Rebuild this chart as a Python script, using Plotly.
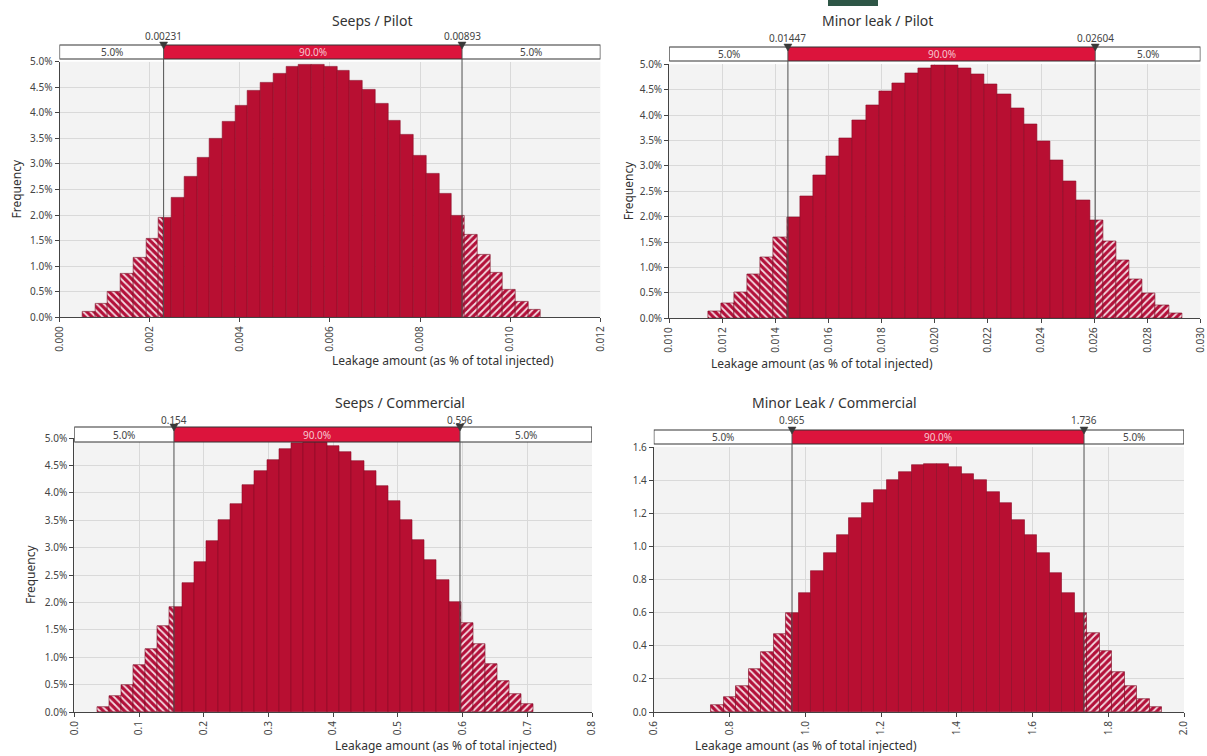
import plotly.graph_objects as go

W, H = 1207, 756

# ---------------- data ----------------
titles = ["Seeps / Pilot", "Minor leak / Pilot", "Seeps / Commercial", "Minor Leak / Commercial"]
x_title = "Leakage amount (as % of total injected)"
y_title = "Frequency"

# Seeps / Pilot  (frequency, %)
sp_start = 0.000508
sp_width = 0.0002826
sp_freq = [0.11, 0.27, 0.51, 0.86, 1.17, 1.53, 1.95, 2.33, 2.75, 3.13, 3.49, 3.83,
           4.13, 4.43, 4.59, 4.77, 4.90, 4.95, 4.95, 4.90, 4.82, 4.63, 4.45, 4.18,
           3.85, 3.57, 3.17, 2.80, 2.41, 1.98, 1.61, 1.23, 0.88, 0.54, 0.31, 0.14]
sp_p5, sp_p95 = 0.00231, 0.00893
sp_labels = ["0.00231", "0.00893"]

# Minor leak / Pilot (frequency, %)
mp_start = 0.01145
mp_width = 0.000496
mp_freq = [0.13, 0.30, 0.52, 0.87, 1.20, 1.59, 1.99, 2.40, 2.81, 3.18, 3.54, 3.89,
           4.20, 4.46, 4.63, 4.82, 4.93, 4.99, 4.99, 4.92, 4.80, 4.61, 4.40, 4.13,
           3.81, 3.48, 3.12, 2.70, 2.32, 1.92, 1.52, 1.14, 0.77, 0.49, 0.26, 0.10]
mp_p5, mp_p95 = 0.01447, 0.02604
mp_labels = ["0.01447", "0.02604"]

# Seeps / Commercial (frequency, %)
sc_start = 0.035
sc_width = 0.01875
sc_freq = [0.10, 0.30, 0.50, 0.85, 1.15, 1.57, 1.92, 2.35, 2.73, 3.12, 3.50, 3.80,
           4.15, 4.40, 4.60, 4.80, 4.90, 4.93, 4.93, 4.85, 4.75, 4.58, 4.40, 4.13,
           3.85, 3.50, 3.13, 2.78, 2.40, 2.00, 1.62, 1.25, 0.88, 0.57, 0.32, 0.15]
sc_p5, sc_p95 = 0.154, 0.596
sc_labels = ["0.154", "0.596"]

# Minor Leak / Commercial (density)
mc_start = 0.751
mc_width = 0.0331
mc_dens = [0.04, 0.09, 0.16, 0.26, 0.36, 0.47, 0.60, 0.72, 0.85, 0.96, 1.07, 1.17,
           1.26, 1.34, 1.40, 1.45, 1.49, 1.50, 1.50, 1.48, 1.44, 1.40, 1.33, 1.26,
           1.16, 1.07, 0.96, 0.84, 0.72, 0.60, 0.48, 0.37, 0.24, 0.16, 0.08, 0.03]
mc_p5, mc_p95 = 0.965, 1.736
mc_labels = ["0.965", "1.736"]

tail_label = "5.0%"
mid_label = "90.0%"

# ---------------- layout config (pixels) ----------------
panels = [
    dict(title=titles[0], start=sp_start, width=sp_width, vals=sp_freq, p5=sp_p5, p95=sp_p95,
         plabs=sp_labels, xr=[0, 0.012], xdt=0.002, xfmt=".3f", yr=[0, 5.0], ydt=0.5,
         ysuf="%", ytitle=True,
         L=59.5, R=600.4, T=61.7, B=317.3, box=(45, 59), title_y=20, plab_y=36,
         xt_y=360, yt_x=16),
    dict(title=titles[1], start=mp_start, width=mp_width, vals=mp_freq, p5=mp_p5, p95=mp_p95,
         plabs=mp_labels, xr=[0.010, 0.030], xdt=0.002, xfmt=".3f", yr=[0, 5.0], ydt=0.5,
         ysuf="%", ytitle=True,
         L=669.2, R=1200.4, T=64.3, B=318.3, box=(47, 61), title_y=20, plab_y=38,
         xt_y=363, yt_x=628),
    dict(title=titles[2], start=sc_start, width=sc_width, vals=sc_freq, p5=sc_p5, p95=sc_p95,
         plabs=sc_labels, xr=[0, 0.8], xdt=0.1, xfmt=".1f", yr=[0, 5.0], ydt=0.5,
         ysuf="%", ytitle=True,
         L=74.3, R=592.0, T=438, B=712, box=(427, 442), title_y=402, plab_y=420,
         xt_y=745, yt_x=30),
    dict(title=titles[3], start=mc_start, width=mc_width, vals=mc_dens, p5=mc_p5, p95=mc_p95,
         plabs=mc_labels, xr=[0.6, 2.0], xdt=0.2, xfmt=".1f", yr=[0, 1.6], ydt=0.2,
         ysuf="", ytitle=False,
         L=653.8, R=1184.0, T=447, B=712, box=(430, 444), title_y=402, plab_y=420,
         xt_y=745, yt_x=None),
]

SOLID = "#b80f32"
HATCH_BG = "#b3103a"
BOX_RED = "#dc143c"
TXT = "#333333"
FONT = "Noto Sans"


def px(x):
    return x / W


def py(y):
    return 1 - y / H


fig = go.Figure()
shapes, annotations = [], []
layout = dict(width=W, height=H, autosize=False,
              margin=dict(l=0, r=0, t=0, b=0, pad=0, autoexpand=False),
              paper_bgcolor="white", plot_bgcolor="#f3f3f3", showlegend=False,
              bargap=0, barmode="overlay", font=dict(family=FONT, color=TXT))

for k, p in enumerate(panels):
    n = k + 1
    xa = "x" if n == 1 else f"x{n}"
    ya = "y" if n == 1 else f"y{n}"
    xkey = "xaxis" if n == 1 else f"xaxis{n}"
    ykey = "yaxis" if n == 1 else f"yaxis{n}"

    # split bins into three regions
    groups = {"left": ([], [], []), "mid": ([], [], []), "right": ([], [], [])}
    for i, h in enumerate(p["vals"]):
        a = p["start"] + i * p["width"]
        b = a + p["width"]
        for name, lo, hi in (("left", -1e9, p["p5"]), ("mid", p["p5"], p["p95"]),
                             ("right", p["p95"], 1e9)):
            s, e = max(a, lo), min(b, hi)
            if e > s:
                groups[name][0].append((s + e) / 2)
                groups[name][1].append(e - s)
                groups[name][2].append(h)

    for name, shape in (("left", "\\"), ("right", "/")):
        xs, ws, hs = groups[name]
        fig.add_trace(go.Bar(
            x=xs, y=hs, width=ws, xaxis=xa, yaxis=ya,
            marker=dict(color=HATCH_BG, line=dict(color="#7a0a22", width=0.6),
                        pattern=dict(shape=shape, fgcolor="white", fgopacity=0.85,
                                     size=5, solidity=0.35, fillmode="overlay")),
            hoverinfo="skip"))
    xs, ws, hs = groups["mid"]
    fig.add_trace(go.Bar(
        x=xs, y=hs, width=ws, xaxis=xa, yaxis=ya,
        marker=dict(color=SOLID, line=dict(color="#8a0a25", width=0.6)),
        hoverinfo="skip"))

    dom_x = [px(p["L"]), px(p["R"])]
    dom_y = [py(p["B"]), py(p["T"])]
    nxt = round((p["xr"][1] - p["xr"][0]) / p["xdt"])
    xtv = [p["xr"][0] + j * p["xdt"] for j in range(nxt + 1)]
    layout[xkey] = dict(domain=dom_x, range=p["xr"], anchor=ya, tickmode="array",
                        tickvals=xtv, ticktext=[format(v, p["xfmt"]) for v in xtv],
                        tickangle=-90, ticks="outside", ticklen=4, automargin=False,
                        tickcolor="#444", showline=True, linecolor="#444", linewidth=1,
                        showgrid=True, gridcolor="#d9d9d9", gridwidth=1, zeroline=False,
                        tickfont=dict(size=10, color="#444", family=FONT), fixedrange=True)
    nyt = round((p["yr"][1] - p["yr"][0]) / p["ydt"])
    ytv = [j * p["ydt"] for j in range(nyt + 1)]
    layout[ykey] = dict(domain=dom_y, range=p["yr"], anchor=xa, tickmode="array",
                        tickvals=ytv, ticktext=[f"{v:.1f}{p['ysuf']}" for v in ytv],
                        ticks="outside", ticklen=4, automargin=False,
                        tickcolor="#444", showline=True, linecolor="#444", linewidth=1,
                        showgrid=True, gridcolor="#d9d9d9", gridwidth=1, zeroline=False,
                        tickfont=dict(size=10, color="#444", family=FONT), fixedrange=True)

    xref = xa
    bt, bb = p["box"]
    units_per_px = (p["xr"][1] - p["xr"][0]) / (p["R"] - p["L"])
    # percentile box
    shapes.append(dict(type="rect", xref=xref, yref="paper", x0=p["xr"][0], x1=p["p5"],
                       y0=py(bb), y1=py(bt), fillcolor="white", line=dict(width=0)))
    shapes.append(dict(type="rect", xref=xref, yref="paper", x0=p["p5"], x1=p["p95"],
                       y0=py(bb), y1=py(bt), fillcolor=BOX_RED, line=dict(width=0)))
    shapes.append(dict(type="rect", xref=xref, yref="paper", x0=p["p95"], x1=p["xr"][1],
                       y0=py(bb), y1=py(bt), fillcolor="white", line=dict(width=0)))
    shapes.append(dict(type="rect", xref=xref, yref="paper", x0=p["xr"][0], x1=p["xr"][1],
                       y0=py(bb), y1=py(bt), fillcolor="rgba(0,0,0,0)",
                       line=dict(color="#333", width=1.2)))
    for v, lab in zip((p["p5"], p["p95"]), p["plabs"]):
        shapes.append(dict(type="line", xref=xref, yref="paper", x0=v, x1=v,
                           y0=py(p["B"]), y1=py(bt), line=dict(color="#505050", width=1)))
        d = 4 * units_per_px
        shapes.append(dict(type="path", xref=xref, yref="paper",
                           path=f"M {v - d},{py(bt - 3)} L {v + d},{py(bt - 3)} L {v},{py(bt + 4)} Z",
                           fillcolor="#3a3a3a", line=dict(color="#3a3a3a", width=0.5)))
        annotations.append(dict(xref=xref, yref="paper", x=v, y=py(p["plab_y"]),
                                text=lab, showarrow=False,
                                font=dict(size=10, color="#444"),
                                xanchor="center", yanchor="middle"))
    ymid = py((bt + bb) / 2)
    annotations.append(dict(xref=xref, yref="paper", x=(p["xr"][0] + p["p5"]) / 2, y=ymid,
                            text=tail_label, showarrow=False, font=dict(size=10, color="#444"),
                            yanchor="middle"))
    annotations.append(dict(xref=xref, yref="paper", x=(p["p5"] + p["p95"]) / 2, y=ymid,
                            text=mid_label, showarrow=False,
                            font=dict(size=10, color="#f6c6cf"), yanchor="middle"))
    annotations.append(dict(xref=xref, yref="paper", x=(p["p95"] + p["xr"][1]) / 2, y=ymid,
                            text=tail_label, showarrow=False, font=dict(size=10, color="#444"),
                            yanchor="middle"))
    # titles
    annotations.append(dict(xref="paper", yref="paper", x=px((p["L"] + p["R"]) / 2),
                            y=py(p["title_y"]), text=p["title"], showarrow=False,
                            font=dict(size=14, color=TXT), yanchor="middle"))
    annotations.append(dict(xref="paper", yref="paper", x=px((p["L"] + p["R"]) / 2),
                            y=py(p["xt_y"]), text=x_title, showarrow=False,
                            font=dict(size=12, color=TXT), yanchor="middle"))
    if p["ytitle"]:
        annotations.append(dict(xref="paper", yref="paper", x=px(p["yt_x"]),
                                y=py((p["T"] + p["B"]) / 2), text=y_title, textangle=-90,
                                showarrow=False, font=dict(size=12, color=TXT),
                                xanchor="center", yanchor="middle"))

# small dark-green artefact at the top edge
shapes.append(dict(type="rect", xref="paper", yref="paper", x0=px(828), x1=px(878),
                   y0=py(6), y1=py(0), fillcolor="#2e5646", line=dict(width=0)))

layout["shapes"] = shapes
layout["annotations"] = annotations
fig.update_layout(**layout)
fig.write_html("out.html", config={"responsive": False, "displayModeBar": False},
               post_script="document.body.style.margin='0';document.body.style.overflow='hidden';")
